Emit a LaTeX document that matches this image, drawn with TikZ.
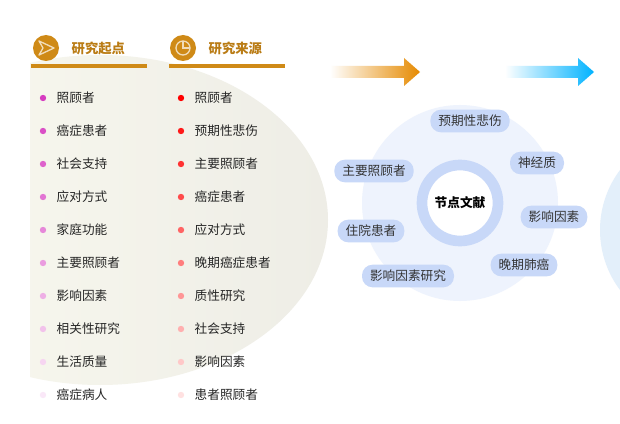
\documentclass[tikz,border=0pt]{standalone}
\usepackage{fontspec}
\setmainfont{Noto Sans CJK SC}
\usetikzlibrary{shapes.geometric}
\definecolor{gold}{HTML}{CF8A17}
\definecolor{pill}{HTML}{C8D8F8}
\definecolor{mag}{HTML}{D63CC0}
\definecolor{ellL}{HTML}{FAFAF0}
\definecolor{ellR}{HTML}{EEEDE6}
\definecolor{circ}{HTML}{EEF3FD}
\definecolor{circR}{HTML}{E3EFFA}
\tikzset{
 pillbox/.style={fill=pill,rounded corners=8pt,minimum height=17pt,inner xsep=6pt,text=black!80,font=\fontsize{9.5}{10}\selectfont},
 item/.style={anchor=west,font=\fontsize{9.5}{10}\selectfont,text=black!85},
 hdr/.style={anchor=west,font=\bfseries\fontsize{10}{11}\selectfont,text=gold!90!black},
}
\begin{document}
\begin{tikzpicture}[x=0.75pt,y=-0.75pt]
\useasboundingbox (0,0) rectangle (620,424);
\fill[white] (0,0) rectangle (620,424);
\begin{scope}
\clip (30,0) rectangle (620,424);
\shade[left color=ellL,right color=ellR] (100,220) ellipse (228 and 165);
\end{scope}
\fill[circR] (700,230) circle (100);
\fill[circ] (460,203) circle (98);
\draw[pill,line width=8pt,fill=white] (460,203) circle (38);
\node[font=\bfseries\fontsize{9.5}{10}\selectfont] (c) at (460,203) {节点文献};
\node[pillbox] (p1) at (470,121) {预期性悲伤};
\node[pillbox] (p2) at (537,163) {神经质};
\node[pillbox] (p3) at (374,171) {主要照顾者};
\node[pillbox] (p4) at (554,217) {影响因素};
\node[pillbox] (p5) at (371,231) {住院患者};
\node[pillbox] (p6) at (524,265) {晚期肺癌};
\node[pillbox] (p7) at (408,276) {影响因素研究};
% arrows
\shade[left color=white,right color=orange!80!yellow!90!black]
 (330,66)--(404,66)--(404,58)--(420,72)--(404,86)--(404,78)--(330,78)--cycle;
\shade[left color=white,right color=cyan!70!blue]
 (505,66)--(578,66)--(578,58)--(594,72)--(578,86)--(578,78)--(505,78)--cycle;
% headers
\fill[gold] (46,48) circle (13);
\draw[white!70!gold,line width=1pt,line join=round] (39,41)--(54,48)--(39,55)--(43,48)--cycle;
\node[hdr] (h1) at (67,48) {研究起点};
\draw[gold,line width=2.5pt] (31,66)--(147,66);
\fill[gold] (183,48) circle (13);
\draw[white!70!gold,line width=1pt] (183,48) circle (7);
\draw[white!70!gold,line width=1pt] (183,41)--(183,48)--(190,48);
\node[hdr] (h2) at (204,48) {研究来源};
\draw[gold,line width=2.5pt] (169,66)--(285,66);
% lists
\foreach \t [count=\i] in {照顾者,癌症患者,社会支持,应对方式,家庭功能,主要照顾者,影响因素,相关性研究,生活质量,癌症病人}{
 \pgfmathsetmacro\p{100-(\i-1)*9.8}
 \fill[mag!\p!white] (43,{98+(\i-1)*33}) circle (3.2);
 \node[item] (l\i) at (52,{98+(\i-1)*33}) {\t};
}
\foreach \t [count=\i] in {照顾者,预期性悲伤,主要照顾者,癌症患者,应对方式,晚期癌症患者,质性研究,社会支持,影响因素,患者照顾者}{
 \pgfmathsetmacro\p{100-(\i-1)*9.8}
 \fill[red!\p!white] (181,{98+(\i-1)*33}) circle (3.2);
 \node[item] (r\i) at (190,{98+(\i-1)*33}) {\t};
}
\end{tikzpicture}
\end{document}
